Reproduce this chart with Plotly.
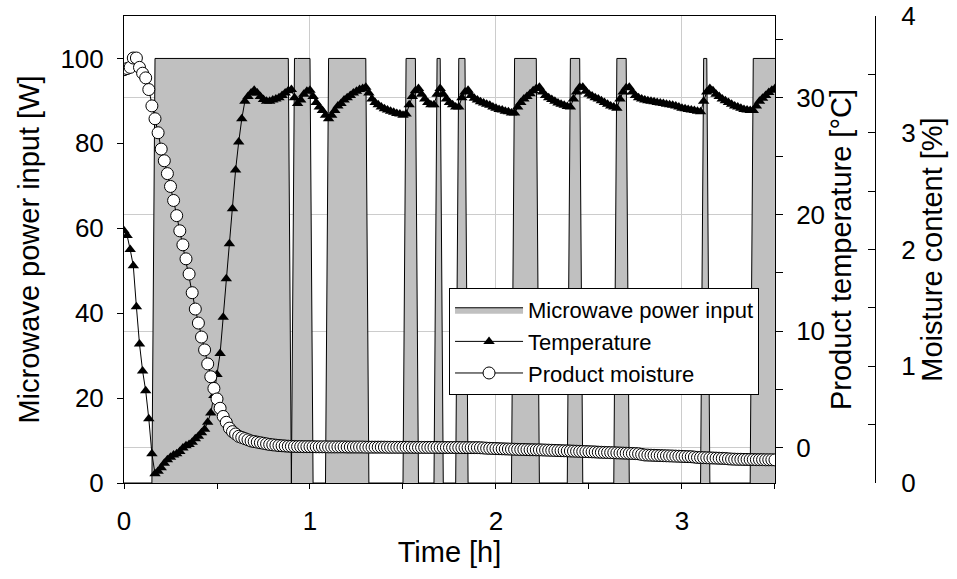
import plotly.graph_objects as go

# ---------------- data ----------------
# logger samples, one per minute
sample_minute = list(range(0, 211))

# microwave on-periods (first and last sample minute with 100 W)
power_on_start_min = [10, 55, 66, 91, 101, 108, 126, 144, 159, 187, 203]
power_on_end_min = [53, 60, 78, 94, 102, 110, 133, 147, 162, 188, 210]
power_level_w = 100

temperature_c = [
    18.6, 18.2, 17.0, 15.6, 12.1, 8.9, 6.6, 4.9, 2.5, -0.5,
    -2.2, -2.0, -1.7, -1.3, -1.0, -0.8, -0.6, -0.5, -0.3, 0.0,
    0.2, 0.3, 0.5, 0.8, 1.0, 1.3, 1.6, 2.2, 3.0, 4.5,
    6.3, 8.1, 11.2, 14.5, 17.5, 20.5, 23.8, 26.2, 28.2, 29.7,
    30.1, 30.4, 30.65, 30.4, 30.1, 29.85, 29.7, 29.7, 29.8, 29.9,
    30.0, 30.2, 30.4, 30.6, 30.7, 30.0, 29.5, 29.8, 30.3, 30.55,
    30.65, 30.1, 29.6, 29.2, 28.9, 28.5, 28.2, 28.5, 28.9, 29.3,
    29.5, 29.8, 30.0, 30.2, 30.4, 30.55, 30.7, 30.8, 30.9, 30.4,
    29.9, 29.6, 29.4, 29.2, 29.05, 28.95, 28.85, 28.75, 28.65, 28.6,
    28.5, 28.6, 29.4, 30.1, 30.6, 30.8, 30.3, 29.9, 29.6, 29.4,
    29.4, 30.3, 30.8, 30.3, 29.9, 29.6, 29.4, 29.2, 29.2, 30.0,
    30.5, 30.65, 30.2, 29.95, 29.8, 29.65, 29.55, 29.45, 29.35, 29.2,
    29.1, 29.0, 28.95, 28.85, 28.8, 28.7, 28.7, 29.2, 29.6, 29.9,
    30.1, 30.35, 30.6, 30.8, 30.9, 30.5, 30.2, 30.0, 29.85, 29.7,
    29.55, 29.45, 29.35, 29.25, 29.2, 29.9, 30.5, 30.9, 30.9, 30.55,
    30.3, 30.15, 30.0, 29.9, 29.75, 29.6, 29.45, 29.3, 29.2, 29.1,
    29.9, 30.5, 30.85, 30.9, 30.5, 30.2, 30.0, 29.9, 29.8, 29.75,
    29.7, 29.65, 29.6, 29.55, 29.5, 29.45, 29.4, 29.35, 29.3, 29.2,
    29.1, 29.05, 29.0, 28.95, 28.9, 28.85, 28.8, 29.7, 30.5, 30.8,
    30.6, 30.3, 30.1, 29.9, 29.75, 29.6, 29.45, 29.3, 29.2, 29.1,
    29.0, 28.95, 28.9, 28.9, 29.3, 29.7, 29.95, 30.2, 30.45, 30.65,
    30.8,
]

moisture_pct = [
    3.54, 3.55, 3.56, 3.64, 3.64, 3.56, 3.51, 3.47, 3.37, 3.23,
    3.12, 3.00, 2.86, 2.76, 2.65, 2.54, 2.42, 2.29, 2.16, 2.04,
    1.92, 1.79, 1.63, 1.49, 1.37, 1.25, 1.14, 1.02, 0.91, 0.81,
    0.72, 0.64, 0.57, 0.52, 0.47, 0.44, 0.42, 0.40, 0.39, 0.38,
    0.37, 0.36, 0.355, 0.35, 0.345, 0.34, 0.335, 0.33, 0.327, 0.324,
    0.321, 0.319, 0.317, 0.315, 0.314, 0.313, 0.312, 0.312, 0.311, 0.311,
    0.311, 0.311, 0.310, 0.310, 0.310, 0.310, 0.309, 0.309, 0.309, 0.309,
    0.309, 0.309, 0.308, 0.308, 0.308, 0.308, 0.308, 0.308, 0.307, 0.307,
    0.307, 0.307, 0.307, 0.307, 0.307, 0.306, 0.306, 0.306, 0.306, 0.306,
    0.306, 0.306, 0.306, 0.305, 0.305, 0.305, 0.305, 0.305, 0.305, 0.305,
    0.305, 0.305, 0.304, 0.304, 0.304, 0.304, 0.304, 0.304, 0.304, 0.303,
    0.303, 0.303, 0.303, 0.303, 0.303, 0.302, 0.300, 0.298, 0.297, 0.296,
    0.295, 0.294, 0.293, 0.292, 0.291, 0.290, 0.289, 0.288, 0.287, 0.287,
    0.286, 0.285, 0.285, 0.284, 0.284, 0.283, 0.282, 0.281, 0.280, 0.279,
    0.278, 0.277, 0.276, 0.275, 0.274, 0.273, 0.272, 0.271, 0.270, 0.269,
    0.268, 0.267, 0.266, 0.264, 0.263, 0.262, 0.261, 0.260, 0.259, 0.258,
    0.257, 0.256, 0.255, 0.254, 0.253, 0.252, 0.250, 0.245, 0.240, 0.239,
    0.238, 0.237, 0.236, 0.235, 0.234, 0.233, 0.232, 0.231, 0.230, 0.229,
    0.228, 0.227, 0.226, 0.225, 0.222, 0.219, 0.218, 0.217, 0.216, 0.215,
    0.214, 0.213, 0.212, 0.211, 0.210, 0.207, 0.205, 0.204, 0.203, 0.203,
    0.202, 0.202, 0.201, 0.201, 0.200, 0.200, 0.200, 0.199, 0.199, 0.199,
    0.198,
]

x_tick_vals = [0, 1, 2, 3]
x_minor_vals = [0.5, 1.5, 2.5, 3.5]
power_tick_vals = [0, 20, 40, 60, 80, 100]
temp_tick_vals = [0, 10, 20, 30]
temp_minor_vals = [5, 15, 25, 35]
moist_tick_vals = [0, 1, 2, 3, 4]
moist_minor_vals = [0.5, 1.5, 2.5, 3.5]

# ---------------- derived ----------------
time_h = [m / 60 for m in sample_minute]
power_w = []
for m in sample_minute:
    on = any(s <= m <= e for s, e in zip(power_on_start_min, power_on_end_min))
    power_w.append(power_level_w if on else 0)

FONT = "Liberation Sans, Arial, sans-serif"
TICK = 26
TITLE = 29

fig = go.Figure()
fig.add_trace(go.Scatter(
    x=time_h, y=power_w, name="Microwave power input", mode="lines",
    fill="tozeroy", fillcolor="#c0c0c0",
    line=dict(color="black", width=1), yaxis="y"))
fig.add_trace(go.Scatter(
    x=time_h, y=temperature_c, name="Temperature", mode="lines+markers",
    marker=dict(symbol="triangle-up", size=10, color="black"),
    line=dict(color="black", width=1), yaxis="y2"))
fig.add_trace(go.Scatter(
    x=time_h, y=moisture_pct, name="Product moisture", mode="lines+markers",
    marker=dict(symbol="circle", size=12, color="white",
                line=dict(color="black", width=1)),
    line=dict(color="black", width=1), yaxis="y3"))

axis_common = dict(showline=True, linecolor="black", linewidth=1,
                   zeroline=False, tickcolor="black", automargin=False,
                   tickfont=dict(size=TICK, color="black", family=FONT))

fig.update_layout(
    width=957, height=579,
    margin=dict(l=124, r=82, t=16, b=96, autoexpand=False),
    paper_bgcolor="white", plot_bgcolor="white",
    font=dict(family=FONT, color="black"),
    showlegend=True,
    legend=dict(x=0.4328, y=0.4176, xanchor="left", yanchor="top",
                bgcolor="white", bordercolor="black", borderwidth=1,
                font=dict(size=22, family=FONT, color="black"),
                itemwidth=68, tracegroupgap=0),
    xaxis=dict(domain=[0, 0.8668], range=[0, 3.5],
               tickvals=x_tick_vals, ticks="outside", ticklen=5,
               mirror=True, showgrid=True, gridcolor="#cccccc", gridwidth=1,
               minor=dict(tickvals=x_minor_vals, ticks="outside", ticklen=5,
                          tickcolor="black", showgrid=False),
               ticklabelstandoff=10,
               title=dict(text="Time [h]", font=dict(size=TITLE), standoff=6),
               **axis_common),
    yaxis=dict(range=[0, 110], tickvals=power_tick_vals, ticks="outside",
               ticklen=6, showgrid=False, ticklabelstandoff=8,
               title=dict(text="Microwave power input [W]",
                          font=dict(size=TITLE), standoff=12),
               **axis_common),
    yaxis2=dict(overlaying="y", side="right", anchor="x", range=[-3, 37],
                tickvals=temp_tick_vals, ticks="outside", ticklen=7,
                minor=dict(tickvals=temp_minor_vals, ticks="outside",
                           ticklen=7, tickcolor="black", showgrid=False),
                showgrid=True, gridcolor="#cccccc", gridwidth=1,
                ticklabelstandoff=8,
                title=dict(text="Product temperature [°C]",
                           font=dict(size=TITLE), standoff=6),
                **axis_common),
    yaxis3=dict(overlaying="y", side="right", anchor="free", position=1.0,
                range=[0, 4], tickvals=moist_tick_vals, ticks="inside",
                ticklen=7,
                minor=dict(tickvals=moist_minor_vals, ticks="inside",
                           ticklen=7, tickcolor="black", showgrid=False),
                showgrid=False, ticklabelstandoff=20,
                title=dict(text="Moisture content [%]",
                           font=dict(size=TITLE), standoff=0),
                **axis_common),
)

fig.write_html("out.html")
